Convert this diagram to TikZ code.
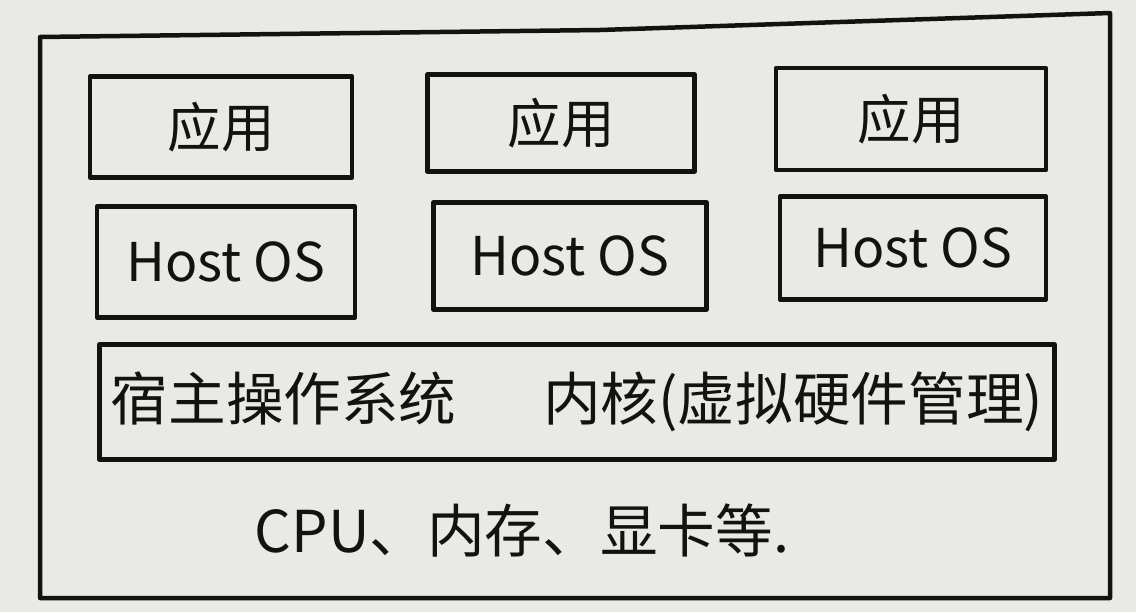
\documentclass[tikz,border=0pt]{standalone}
\usepackage{fontspec}
\newfontfamily\cjk{Noto Sans CJK SC}
\definecolor{paper}{HTML}{E9E9E5}
\definecolor{ink}{HTML}{141210}
\tikzset{
  handbox/.style={draw=ink, line width=3.2pt, line join=round, inner sep=0pt},
  handtext/.style={text=ink, font=\cjk\fontsize{38}{40}\selectfont},
  bigtext/.style={text=ink, font=\cjk\fontsize{41}{43}\selectfont}
}
\begin{document}
\begin{tikzpicture}[x=0.025cm,y=-0.025cm]
  \fill[paper] (0,0) rectangle (1136,612);
  \useasboundingbox (0,0) rectangle (1136,612);
  % outer frame
  \coordinate (otl) at (40,37);
  \coordinate (otm) at (600,30);
  \coordinate (otr) at (1110,13);
  \coordinate (obr) at (1110,598);
  \coordinate (obl) at (40,598);
  \draw[ink, line width=3.2pt, line join=round] (otl) -- (otm) -- (otr) -- (obr) -- (obl) -- cycle;
  % application row
  \node[handbox, handtext, minimum width=6.55cm, minimum height=2.52cm] (app1) at (221,127) {应用};
  \node[handbox, handtext, minimum width=6.67cm, minimum height=2.42cm] (app2) at (561,123) {应用};
  \node[handbox, handtext, minimum width=6.75cm, minimum height=2.55cm] (app3) at (911,119) {应用};
  % host OS row
  \node[handbox, handtext, minimum width=6.45cm, minimum height=2.77cm] (host1) at (226,262) {Host OS};
  \node[handbox, handtext, minimum width=6.82cm, minimum height=2.67cm] (host2) at (570,256) {Host OS};
  \node[handbox, handtext, minimum width=6.65cm, minimum height=2.57cm] (host3) at (913,248) {Host OS};
  % kernel
  \node[handbox, bigtext, minimum width=23.87cm, minimum height=2.87cm] (kernel) at (577,402) {宿主操作系统\hspace{1.5em}内核(虚拟硬件管理)};
  % hardware
  \node[bigtext, inner sep=0pt] (hw) at (522,530) {CPU、内存、显卡等.};
\end{tikzpicture}
\end{document}
